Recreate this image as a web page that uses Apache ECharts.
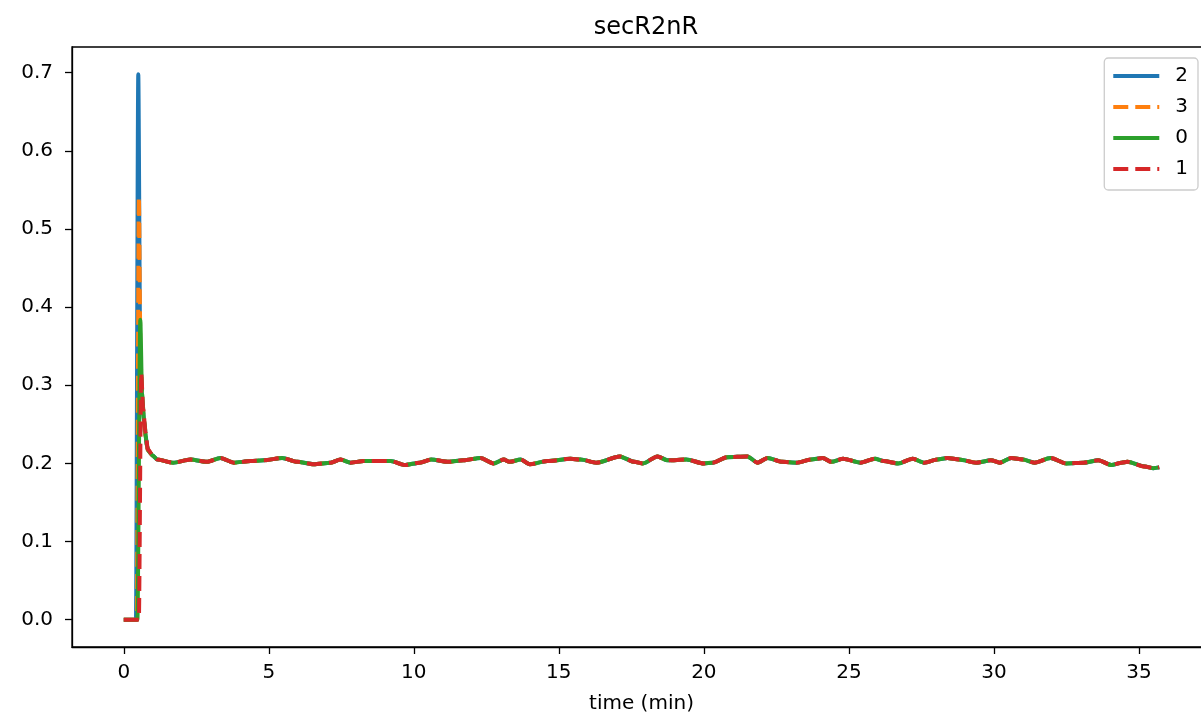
<!DOCTYPE html>
<html>
<head>
<meta charset="utf-8">
<script src="https://cdn.jsdelivr.net/npm/echarts@6/dist/echarts.min.js"></script>
<style>
html,body{margin:0;padding:0;background:#fff;}
#chart{width:1201px;height:719px;}
</style>
</head>
<body>
<div id="chart"></div>
<script>
// ---- data ----
const seriesNames = ['2', '3', '0', '1'];
const seriesColors = ['#1f77b4', '#ff7f0e', '#2ca02c', '#d62728'];
const seriesDashed = [false, true, false, true];

// rise & spike segment of each series (time in min, value)
const head2Time = [0, 0.42, 0.50, 0.57, 0.65, 0.75, 0.83];
const head2Val  = [0, 0, 0.698, 0.330, 0.270, 0.235, 0.217];
const head3Time = [0, 0.45, 0.52, 0.58, 0.65, 0.75, 0.83];
const head3Val  = [0, 0, 0.541, 0.330, 0.270, 0.235, 0.217];
const head0Time = [0, 0.47, 0.57, 0.63, 0.70, 0.80, 0.87];
const head0Val  = [0, 0, 0.384, 0.290, 0.255, 0.222, 0.215];
const head1Time = [0, 0.52, 0.60, 0.67, 0.75, 0.83];
const head1Val  = [0, 0, 0.316, 0.270, 0.240, 0.218];

// shared plateau (all four series overlap here)
const tailTime = [1.0, 1.15, 1.7, 2.3, 2.87, 3.33, 3.79, 4.37, 4.83, 5.46, 5.98, 6.55, 7.13, 7.47, 7.82, 8.27, 8.7, 9.2, 9.71, 10.2, 10.6, 11.2, 11.7, 12.3, 12.75, 13.1, 13.3, 13.68, 14.0, 14.6, 15.4, 15.75, 16.3, 17.1, 17.6, 17.9, 18.4, 18.75, 19.4, 20.0, 20.3, 20.8, 21.5, 21.85, 22.2, 22.7, 23.2, 23.7, 24.1, 24.4, 24.8, 25.4, 25.9, 26.2, 26.7, 27.2, 27.6, 28.05, 28.4, 28.8, 29.4, 29.9, 30.2, 30.6, 31.0, 31.4, 31.95, 32.5, 33.1, 33.6, 34.05, 34.4, 34.6, 35.2, 35.5, 35.7];
const tailVal  = [0.210, 0.205, 0.201, 0.205, 0.202, 0.207, 0.201, 0.203, 0.204, 0.207, 0.202, 0.199, 0.201, 0.205, 0.201, 0.203, 0.203, 0.203, 0.198, 0.201, 0.205, 0.202, 0.204, 0.207, 0.200, 0.205, 0.202, 0.205, 0.199, 0.203, 0.206, 0.205, 0.201, 0.209, 0.202, 0.200, 0.209, 0.204, 0.205, 0.200, 0.201, 0.208, 0.209, 0.201, 0.207, 0.202, 0.201, 0.205, 0.207, 0.202, 0.206, 0.201, 0.206, 0.203, 0.200, 0.206, 0.201, 0.205, 0.207, 0.205, 0.201, 0.204, 0.201, 0.207, 0.205, 0.201, 0.207, 0.200, 0.201, 0.204, 0.198, 0.201, 0.202, 0.196, 0.194, 0.195];

const xTicks = [0, 5, 10, 15, 20, 25, 30, 35];
const yTicks = [0, 0.1, 0.2, 0.3, 0.4, 0.5, 0.6, 0.7];

// ---- build ----
function pairs(ts, vs) { return ts.map((t, i) => [t, vs[i]]); }
const tail = pairs(tailTime, tailVal);
const seriesData = [
  pairs(head2Time, head2Val).concat(tail),
  pairs(head3Time, head3Val).concat(tail),
  pairs(head0Time, head0Val).concat(tail),
  pairs(head1Time, head1Val).concat(tail)
];

const FONT = 'DejaVu Sans';
const chart = echarts.init(document.getElementById('chart'), null, {renderer: 'canvas'});
chart.setOption({
  animation: false,
  backgroundColor: '#ffffff',
  textStyle: {fontFamily: FONT},
  title: {
    text: 'secR2nR', left: 641, top: 11, textAlign: 'center',
    textStyle: {fontFamily: FONT, fontSize: 24, fontWeight: 'normal', color: '#000'}
  },
  legend: {
    orient: 'vertical', right: 3, top: 58,
    data: seriesNames,
    itemWidth: 46, itemHeight: 14, itemGap: 11,
    padding: [8, 10, 11, 7],
    borderColor: '#cccccc', borderWidth: 1.3, borderRadius: 4,
    backgroundColor: 'rgba(255,255,255,0.8)',
    itemStyle: {opacity: 0},
    lineStyle: {width: 4, cap: 'butt'},
    textStyle: {fontFamily: FONT, fontSize: 20, lineHeight: 20, color: '#000', padding: [0, 0, 0, 11]}
  },
  grid: {
    left: 72, top: 47, width: 1139, height: 600,
    show: true, borderColor: '#000', borderWidth: 1.3, backgroundColor: 'transparent',
    containLabel: false, outerBoundsMode: 'none'
  },
  xAxis: {
    type: 'value', min: -1.785, max: 37.485,
    name: 'time (min)', nameLocation: 'middle', nameGap: 47,
    nameTextStyle: {fontFamily: FONT, fontSize: 20, color: '#000'},
    splitLine: {show: false},
    axisLine: {show: true, onZero: false, lineStyle: {color: '#000', width: 1.3}},
    axisTick: {show: true, inside: false, length: 7, lineStyle: {color: '#000', width: 1.3}, customValues: xTicks},
    axisLabel: {fontFamily: FONT, fontSize: 20, color: '#000', margin: 16, customValues: xTicks, formatter: v => String(v)}
  },
  yAxis: {
    type: 'value', min: -0.0349, max: 0.7329,
    splitLine: {show: false},
    axisLine: {show: true, onZero: false, lineStyle: {color: '#000', width: 1.3}},
    axisTick: {show: true, inside: false, length: 7, lineStyle: {color: '#000', width: 1.3}, customValues: yTicks},
    axisLabel: {fontFamily: FONT, fontSize: 20, color: '#000', margin: 19, customValues: yTicks, formatter: v => v.toFixed(1)}
  },
  series: seriesNames.map((name, i) => ({
    name: name,
    type: 'line',
    data: seriesData[i],
    showSymbol: false,
    symbol: 'none',
    smooth: 0.25,
    smoothMonotone: 'x',
    color: seriesColors[i],
    lineStyle: {
      color: seriesColors[i], width: 4,
      type: seriesDashed[i] ? [15, 7] : 'solid',
      cap: 'butt', join: 'round'
    },
    z: 2 + i
  }))
});
</script>
</body>
</html>
